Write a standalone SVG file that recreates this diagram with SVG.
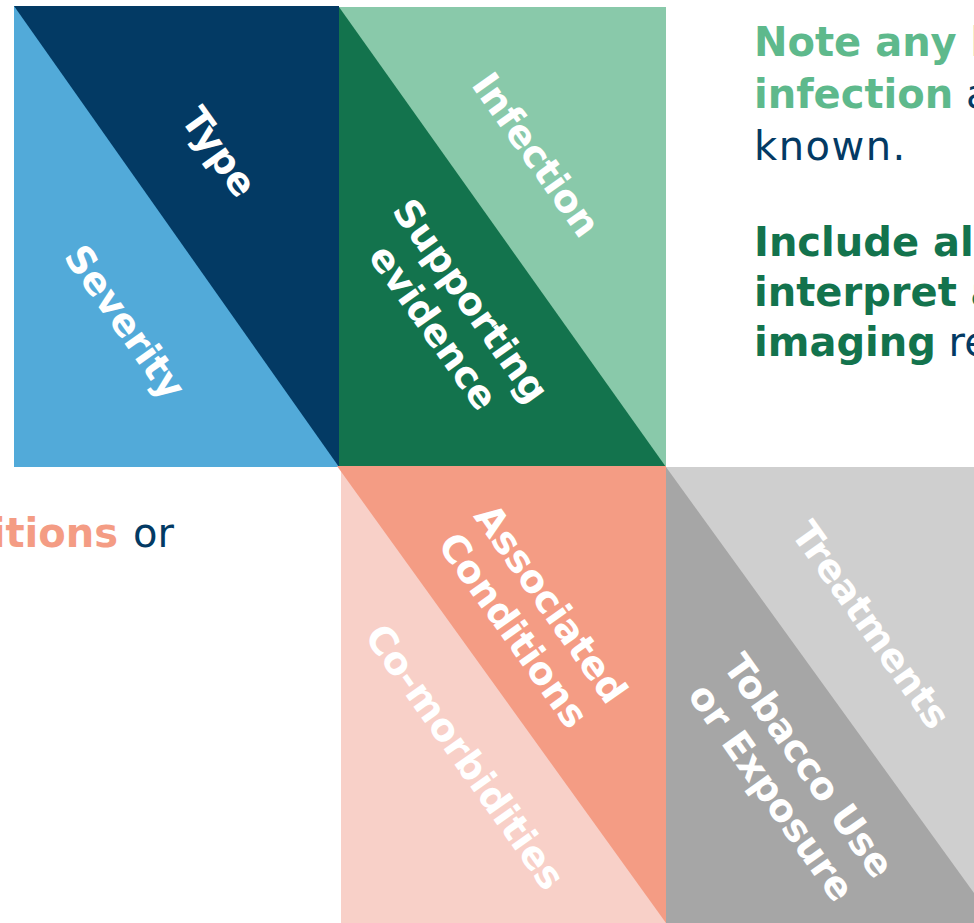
<svg xmlns="http://www.w3.org/2000/svg" width="974" height="923" viewBox="0 0 974 923">
<style>
.lbl{font-family:"DejaVu Sans","Liberation Sans",sans-serif;font-weight:bold;font-size:38px;fill:#ffffff;text-anchor:middle}
.body{font-family:"DejaVu Sans","Liberation Sans",sans-serif;font-size:40px;fill:#033A64}
.b{font-weight:bold}
.lg{fill:#5EB98C}
.dg{fill:#13734D}
.sal{fill:#F49C84}
</style>
<rect width="974" height="923" fill="#ffffff"/>
<g id="block-type-severity">
<rect x="14" y="6" width="325" height="461" fill="#52AAD9"/>
<polygon points="14,6 339,6 339,467" fill="#033A64"/>
<text class="lbl" transform="translate(219,152) rotate(54.7)" y="13">Type</text>
<text class="lbl" transform="translate(125,322) rotate(54.7)" y="13">Severity</text>
</g>
<g id="block-infection-evidence">
<rect x="339" y="7" width="327" height="460" fill="#89C9AA"/>
<polygon points="339,7 666,467 339,467" fill="#13734D"/>
<text class="lbl" transform="translate(536,155) rotate(54.7)" y="13">Infection</text>
<text class="lbl" transform="translate(452,314) rotate(54.7)"><tspan x="0" y="-10">Supporting</tspan><tspan x="0" y="36">evidence</tspan></text>
</g>
<g id="block-conditions">
<rect x="341" y="466" width="325" height="457" fill="#F8D0C8"/>
<polygon points="337,466 666,466 666,923" fill="#F49C84"/>
<text class="lbl" transform="translate(532,617) rotate(54.7)"><tspan x="0" y="-10">Associated</tspan><tspan x="0" y="36">Conditions</tspan></text>
<text class="lbl" transform="translate(465,757) rotate(54.7)" y="13">Co-morbidities</text>
</g>
<g id="block-treatments">
<rect x="666" y="467" width="308" height="456" fill="#A6A6A6"/>
<polygon points="666,467 974,467 974,893" fill="#CFCFCF"/>
<text class="lbl" transform="translate(871,625) rotate(54.7)" y="13">Treatments</text>
<text class="lbl" transform="translate(790,779) rotate(54.7)"><tspan x="0" y="-10">Tobacco Use</tspan><tspan x="0" y="36">or Exposure</tspan></text>
</g>
<g id="note-text">
<text class="body" x="754" y="56"><tspan class="b lg">Note any known</tspan></text>
<text class="body" x="754" y="108"><tspan class="b lg">infection</tspan> and</text>
<text class="body" x="754" y="160" letter-spacing="1.5">known.</text>
<text class="body" x="754" y="256"><tspan class="b dg">Include all</tspan></text>
<text class="body" x="754" y="306"><tspan class="b dg">interpret and</tspan></text>
<text class="body" x="754" y="356"><tspan class="b dg">imaging</tspan> results</text>
</g>
<g id="conditions-text">
<text class="body" x="118" y="547" text-anchor="end"><tspan class="b sal">Associated Conditions</tspan></text>
<text class="body" x="133" y="547">or</text>
</g>
</svg>
